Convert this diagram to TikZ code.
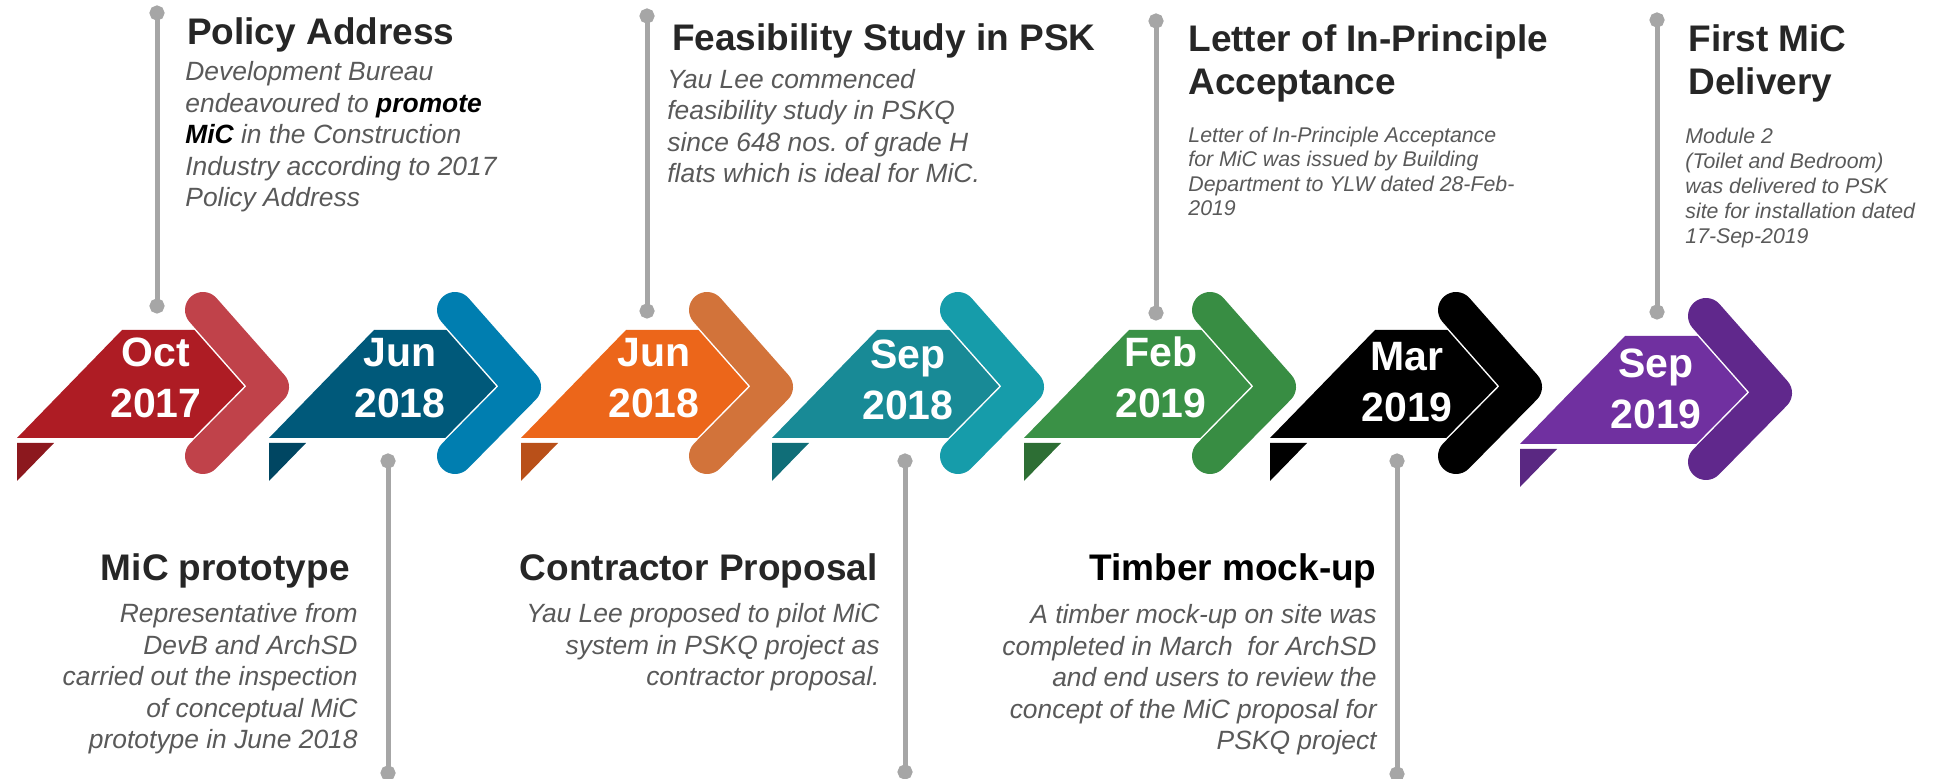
\documentclass[tikz,border=0pt]{standalone}
\usepackage{fontspec}
\setmainfont{Liberation Sans}
\frenchspacing
\usetikzlibrary{arrows.meta,calc}
\definecolor{titlegray}{RGB}{38,38,38}
\definecolor{blurbgray}{RGB}{89,89,89}
\definecolor{stemgray}{RGB}{166,166,166}
\definecolor{redbody}{RGB}{174,28,36}
\definecolor{redchev}{RGB}{192,66,74}
\definecolor{redfold}{RGB}{140,24,30}
\definecolor{bluebody}{RGB}{0,89,122}
\definecolor{bluechev}{RGB}{0,126,176}
\definecolor{bluefold}{RGB}{0,70,98}
\definecolor{orangebody}{RGB}{236,102,26}
\definecolor{orangechev}{RGB}{210,115,58}
\definecolor{orangefold}{RGB}{185,80,25}
\definecolor{tealbody}{RGB}{24,138,150}
\definecolor{tealchev}{RGB}{22,156,170}
\definecolor{tealfold}{RGB}{16,110,120}
\definecolor{greenbody}{RGB}{58,145,70}
\definecolor{greenchev}{RGB}{56,141,67}
\definecolor{greenfold}{RGB}{45,110,52}
\definecolor{purplebody}{RGB}{112,48,160}
\definecolor{purplechev}{RGB}{96,40,140}
\definecolor{purplefold}{RGB}{90,40,130}
\tikzstyle{chevron}=[
  line width=18pt,
  line cap=round,
  line join=round,
]
\tikzstyle{chevronedge}=[
  chevron,
  white,
  line width=19.5pt,
]
\tikzstyle{datetext}=[
  anchor=base,
  font={\bfseries\fontsize{20.5}{24}\selectfont},
  inner sep=0pt,
  text=white,
]
\tikzstyle{heading}=[
  align=left,
  font={\bfseries\fontsize{18.5}{21.5}\selectfont},
  inner sep=0pt,
  text=titlegray,
]
\tikzstyle{blurb}=[
  font={\itshape\fontsize{13.2}{15.8}\selectfont},
  inner sep=0pt,
  text=blurbgray,
]
\tikzstyle{smallblurb}=[
  blurb,
  font={\itshape\fontsize{10.65}{12.3}\selectfont},
]
\tikzstyle{stem}=[
  draw=stemgray,
  line width=2.5pt,
  {Circle[length=7.5pt]}-{Circle[length=7.5pt]},
  shorten <=-3.75pt,
  shorten >=-3.75pt,
]
% one dated arrow: name, origin, body, chevron, fold, month, year, text x, month baseline
\newcommand{\timestep}[9]{%
  \begin{scope}[shift={#2}]
    \coordinate (#1) at (0,0);
    \fill [#3] (0,0) -- (105,-108) -- (179.7,-108) -- (229.4,-51.7) -- (178.4,0) -- cycle;
    \fill [#5] (0,5) -- (37,5) -- (0,43) -- cycle;
    \draw [chevronedge] (186,-128) -- (254,-51) -- (186,18);
    \draw [chevron, #4] (186,-128) -- (254,-51) -- (186,18);
    \node (#1-month) [datetext] at (#8,#9) {#6};
    \node (#1-year) [datetext] at (#8,#9+51) {#7};
  \end{scope}}

\begin{document}
\begin{tikzpicture}[x=0.5pt, y=-0.5pt]
  \useasboundingbox (0,0) rectangle (1934,779);
  %% arrows
  \timestep{oct17}{(17,438)}{redbody}{redchev}{redfold}{Oct}{2017}{139}{-71}
  \timestep{jun18a}{(269,438)}{bluebody}{bluechev}{bluefold}{Jun}{2018}{131}{-71}
  \timestep{jun18b}{(521,438)}{orangebody}{orangechev}{orangefold}{Jun}{2018}{133}{-71}
  \timestep{sep18}{(772,438)}{tealbody}{tealchev}{tealfold}{Sep}{2018}{136}{-69}
  \timestep{feb19}{(1024,438)}{greenbody}{greenchev}{greenfold}{Feb}{2019}{137}{-71}
  \timestep{mar19}{(1270,438)}{black}{black}{black}{Mar}{2019}{137}{-67}
  \timestep{sep19}{(1520,444)}{purplebody}{purplechev}{purplefold}{Sep}{2019}{136}{-66}
  %% stems
  \coordinate (s1a) at (157,13);
  \coordinate (s1b) at (157,306);
  \coordinate (s2a) at (388,461);
  \coordinate (s2b) at (388,773);
  \coordinate (s3a) at (647,16);
  \coordinate (s3b) at (647,311);
  \coordinate (s4a) at (905,461);
  \coordinate (s4b) at (905,772);
  \coordinate (s5a) at (1156,21);
  \coordinate (s5b) at (1156,313);
  \coordinate (s6a) at (1397,461);
  \coordinate (s6b) at (1397,774);
  \coordinate (s7a) at (1657,20);
  \coordinate (s7b) at (1657,312);
  \draw [stem] (s1a) -- (s1b);
  \draw [stem] (s2a) -- (s2b);
  \draw [stem] (s3a) -- (s3b);
  \draw [stem] (s4a) -- (s4b);
  \draw [stem] (s5a) -- (s5b);
  \draw [stem] (s6a) -- (s6b);
  \draw [stem] (s7a) -- (s7b);
  %% upper texts (multi-line nodes sit on their last baseline)
  \node (policy) [heading, anchor=base west] at (186.7,45) {Policy Address};
  \node (policytext) [blurb, anchor=base west, align=left] at (185,207)
    {Development Bureau\\endeavoured to \textcolor{black}{\textbf{promote}}\\\textcolor{black}{\textbf{MiC}} in the Construction\\Industry according to 2017\\Policy Address};
  \node (study) [heading, anchor=base west] at (671.7,51) {Feasibility Study in PSK};
  \node (studytext) [blurb, anchor=base west, align=left] at (667,183)
    {Yau Lee commenced\\feasibility study in PSKQ\\since 648 nos. of grade H\\flats which is ideal for MiC.};
  \node (letter) [heading, anchor=base west] at (1188,95) {Letter of In-Principle\\Acceptance};
  \node (lettertext) [smallblurb, anchor=base west, align=left] at (1188,216)
    {Letter of In-Principle Acceptance\\for MiC was issued by Building\\Department to YLW dated 28-Feb-\\2019};
  \node (delivery) [heading, anchor=base west] at (1688,95) {First MiC\\Delivery};
  \node (deliverytext) [smallblurb, anchor=base west, align=left, font={\itshape\fontsize{10.65}{12.5}\selectfont}] at (1685,244)
    {Module 2\\(Toilet and Bedroom)\\was delivered to PSK\\site for installation dated\\17-Sep-2019};
  %% lower texts
  \node (prototype) [heading, anchor=base east] at (350,581) {MiC prototype};
  \node (prototypetext) [blurb, anchor=base east, align=right] at (358,749)
    {Representative from\\DevB and ArchSD\\carried out the inspection\\of conceptual MiC\\prototype in June 2018};
  \node (proposal) [heading, anchor=base east] at (878,581) {Contractor Proposal};
  \node (proposaltext) [blurb, anchor=base east, align=right] at (880,686)
    {Yau Lee proposed to pilot MiC\\system in PSKQ project as\\contractor proposal.};
  \node (mockup) [heading, anchor=base east, text=black] at (1377,581) {Timber mock-up};
  \node (mockuptext) [blurb, anchor=base east, align=right] at (1377,750)
    {A timber mock-up on site was\\completed in March\ \ for ArchSD\\and end users to review the\\concept of the MiC proposal for\\PSKQ project};
\end{tikzpicture}
\end{document}
